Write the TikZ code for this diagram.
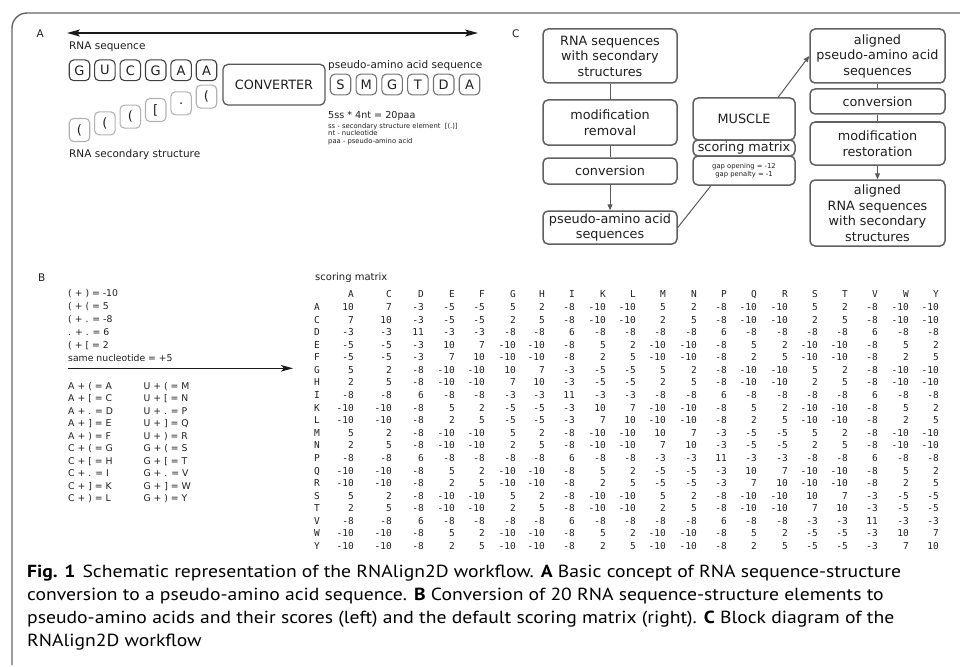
\documentclass[tikz,border=0pt]{standalone}
\usepackage{fontspec}
\setmainfont{DejaVu Sans}
\newfontfamily\dvs{DejaVu Sans}
\newfontfamily\dvm{DejaVu Sans Mono}
\newfontfamily\capf[FakeStretch=1.122]{PT Sans}
\usetikzlibrary{arrows.meta,calc}
\newcommand\myfs[1]{\fontsize{#1}{#1}\selectfont}
\tikzset{
  txt/.style={inner sep=0pt, anchor=base west, text=black!88},
  lbl/.style={txt, font=\dvs\myfs{10.5}},
  seqbox/.style={draw=black!75, line width=1.1pt, rounded corners=4.5pt, minimum width=20.5pt, minimum height=20.7pt, inner sep=0pt, font=\dvs\myfs{13}, text=black!88},
  ssbox/.style={seqbox, draw=black!30, minimum height=23pt},
  paabox/.style={seqbox, draw=black!55},
  flowbox/.style={draw=black!62, line width=1.5pt, rounded corners=5pt, align=center, inner sep=0pt, text=black!88, font=\dvs\fontsize{12.8}{15.5}\selectfont},
  conn/.style={draw=black!65, line width=1pt},
  carrow/.style={conn, -{Triangle[length=6pt,width=5pt]}},
  bigarrow/.style={draw=black!90, line width=1.3pt},
  mtx/.style={inner sep=0pt, anchor=base east, font=\dvm\myfs{9.5}, text=black!88},
  mtxl/.style={inner sep=0pt, anchor=base west, font=\dvm\myfs{9.5}, text=black!88},
  btxt/.style={txt, font=\dvs\myfs{9.3}},
  captxt/.style={inner sep=0pt, anchor=base west, font=\capf\myfs{17.5}, text=black}
}
\begin{document}
\begin{tikzpicture}[x=1pt,y=-1pt]
\useasboundingbox (0,0) rectangle (960,666);
% frame
\draw[draw=black!60, line width=1.4pt, rounded corners=15pt] (12,665) -- (12,13) -- (961,13);

% ---------------- Panel A ----------------
\node[lbl] (labA) at (36.5,38) {A};
\node[lbl] (labC) at (512,38) {C};
\coordinate (aL) at (67,33);
\coordinate (aR) at (478,33);
\draw[bigarrow, {Stealth[length=13pt,width=7pt,inset=3pt]}-{Stealth[length=13pt,width=7pt,inset=3pt]}] (aL) -- (aR);
\node[lbl] (rnaseq) at (69,50) {RNA sequence};
\foreach \ch [count=\i from 0] in {G,U,C,G,A,A}
  \node[seqbox] (rs\i) at ({79.5+25.4*\i},70.3) {\ch};
\foreach \ch [count=\i from 0] in {{(},{(},{(},{[},{.},{(}}
  \node[ssbox] (ss\i) at ({79.5+25.4*\i},{130-6.67*\i}) {\ch};
\node[lbl] (rnass) at (69,157) {RNA secondary structure};
\node[seqbox, draw=black!65, line width=1.3pt, rounded corners=5pt, minimum width=102pt, minimum height=40.7pt, font=\dvs\myfs{12.8}] (conv) at (274,84.7) {CONVERTER};
\node[lbl] (paaseq) at (328,69) {pseudo-amino acid sequence};
\foreach \ch [count=\i from 0] in {S,M,G,T,D,A}
  \node[paabox] (pa\i) at ({340.5+25.8*\i},84.5) {\ch};
\node[txt, font=\dvs\myfs{9.6}] (eq) at (328,118.3) {5ss * 4nt = 20paa};
\node[txt, font=\dvs\myfs{6.8}] (leg1) at (328,128.3) {ss - secondary structure element\ \ [(.)]};
\node[txt, font=\dvs\myfs{6.8}] (leg2) at (328,135.8) {nt - nucleotide};
\node[txt, font=\dvs\myfs{6.8}] (leg3) at (328,143.3) {paa - pseudo-amino acid};

% ---------------- Panel C ----------------
\node[flowbox, minimum width=134pt, minimum height=54pt] (c1) at (610,56) {RNA sequences\\with secondary\\structures};
\node[flowbox, minimum width=134pt, minimum height=45pt] (c2) at (610,122.5) {modification\\removal};
\node[flowbox, minimum width=134pt, minimum height=26pt] (c3) at (610,171) {conversion};
\node[flowbox, minimum width=134pt, minimum height=33pt] (c4) at (610,227.5) {pseudo-amino acid\\sequences};
\node[flowbox, minimum width=102pt, minimum height=42pt] (m1) at (744,119) {MUSCLE};
\node[flowbox, minimum width=102pt, minimum height=16pt] (m2) at (744,148) {scoring matrix};
\node[flowbox, minimum width=102pt, minimum height=29pt, font=\dvs\fontsize{6.8}{8.2}\selectfont] (m3) at (744,170.5) {gap opening = -12\\gap penalty = -1};
\node[flowbox, minimum width=135pt, minimum height=54pt] (r1) at (877.5,56) {aligned\\pseudo-amino acid\\sequences};
\node[flowbox, minimum width=135pt, minimum height=25pt] (r2) at (877.5,101.5) {conversion};
\node[flowbox, minimum width=135pt, minimum height=43pt] (r3) at (877.5,143.5) {modification\\restoration};
\node[flowbox, minimum width=135pt, minimum height=66pt] (r4) at (877.5,213) {aligned\\RNA sequences\\with secondary\\structures};
\draw[conn] (c1) -- (c2);
\draw[conn] (c2) -- (c3);
\draw[carrow] (c3) -- (c4);
\draw[conn] (c4.east) -- ($(m3.south west)!0.18!(m3.south east)$);
\draw[carrow] ($(m1.north west)!0.83!(m1.north east)$) -- (r1.west);
\draw[conn] (r1) -- (r2);
\draw[conn] (r2) -- (r3);
\draw[carrow] (r3) -- (r4);

% ---------------- Panel B ----------------
\node[lbl] (labB) at (38,281) {B};
\foreach \t [count=\i from 0] in {{( + ) = -10},{( + ( = 5},{( + . = -8},{. + . = 6},{( + [ = 2},{same nucleotide = +5}}
  \node[btxt] (rule\i) at (68,{296.5+13*\i}) {\t};
\coordinate (bL) at (68,368.3);
\coordinate (bR) at (293,368.3);
\draw[bigarrow, -{Stealth[length=12pt,width=6.5pt,inset=3pt]}] (bL) -- (bR);
\foreach \t [count=\i from 0] in {{A + ( = A},{A + [ = C},{A + . = D},{A + ] = E},{A + ) = F},{C + ( = G},{C + [ = H},{C + . = I},{C + ] = K},{C + ) = L}}
  \node[btxt] (mapa\i) at (68,{389+12.5*\i}) {\t};
\foreach \t [count=\i from 0] in {{U + ( = M},{U + [ = N},{U + . = P},{U + ] = Q},{U + ) = R},{G + ( = S},{G + [ = T},{G + . = V},{G + ] = W},{G + ) = Y}}
  \node[btxt] (mapb\i) at (143.3,{389+12.5*\i}) {\t};

% scoring matrix
\node[lbl, font=\dvs\myfs{10}] (smlab) at (315,280.3) {scoring matrix};
\def\colx{{354,392,424,455,485,516,545,575,606,636,666,697,727,757,788,818,848,878,909,939}}
\foreach \h [count=\c from 0] in {A,C,D,E,F,G,H,I,K,L,M,N,P,Q,R,S,T,V,W,Y}{
  \pgfmathsetmacro\xx{\colx[\c]}
  \node[mtx] (h\c) at (\xx,297) {\h};
}
\foreach \lab/\vals [count=\r from 0] in {
 A/{10,7,-3,-5,-5,5,2,-8,-10,-10,5,2,-8,-10,-10,5,2,-8,-10,-10},
 C/{7,10,-3,-5,-5,2,5,-8,-10,-10,2,5,-8,-10,-10,2,5,-8,-10,-10},
 D/{-3,-3,11,-3,-3,-8,-8,6,-8,-8,-8,-8,6,-8,-8,-8,-8,6,-8,-8},
 E/{-5,-5,-3,10,7,-10,-10,-8,5,2,-10,-10,-8,5,2,-10,-10,-8,5,2},
 F/{-5,-5,-3,7,10,-10,-10,-8,2,5,-10,-10,-8,2,5,-10,-10,-8,2,5},
 G/{5,2,-8,-10,-10,10,7,-3,-5,-5,5,2,-8,-10,-10,5,2,-8,-10,-10},
 H/{2,5,-8,-10,-10,7,10,-3,-5,-5,2,5,-8,-10,-10,2,5,-8,-10,-10},
 I/{-8,-8,6,-8,-8,-3,-3,11,-3,-3,-8,-8,6,-8,-8,-8,-8,6,-8,-8},
 K/{-10,-10,-8,5,2,-5,-5,-3,10,7,-10,-10,-8,5,2,-10,-10,-8,5,2},
 L/{-10,-10,-8,2,5,-5,-5,-3,7,10,-10,-10,-8,2,5,-10,-10,-8,2,5},
 M/{5,2,-8,-10,-10,5,2,-8,-10,-10,10,7,-3,-5,-5,5,2,-8,-10,-10},
 N/{2,5,-8,-10,-10,2,5,-8,-10,-10,7,10,-3,-5,-5,2,5,-8,-10,-10},
 P/{-8,-8,6,-8,-8,-8,-8,6,-8,-8,-3,-3,11,-3,-3,-8,-8,6,-8,-8},
 Q/{-10,-10,-8,5,2,-10,-10,-8,5,2,-5,-5,-3,10,7,-10,-10,-8,5,2},
 R/{-10,-10,-8,2,5,-10,-10,-8,2,5,-5,-5,-3,7,10,-10,-10,-8,2,5},
 S/{5,2,-8,-10,-10,5,2,-8,-10,-10,5,2,-8,-10,-10,10,7,-3,-5,-5},
 T/{2,5,-8,-10,-10,2,5,-8,-10,-10,2,5,-8,-10,-10,7,10,-3,-5,-5},
 V/{-8,-8,6,-8,-8,-8,-8,6,-8,-8,-8,-8,6,-8,-8,-3,-3,11,-3,-3},
 W/{-10,-10,-8,5,2,-10,-10,-8,5,2,-10,-10,-8,5,2,-5,-5,-3,10,7},
 Y/{-10,-10,-8,2,5,-10,-10,-8,2,5,-10,-10,-8,2,5,-5,-5,-3,7,10}}{
  \pgfmathsetmacro\yy{310.5+12.58*\r}
  \node[mtxl] (rl\r) at (314,\yy) {\lab};
  \foreach \v [count=\c from 0] in \vals {
    \pgfmathsetmacro\xx{\colx[\c]}
    \node[mtx] (m\r-\c) at (\xx,\yy) {\v};
  }
}

% ---------------- Caption ----------------
\node[captxt] (cap1) at (27,577) {\textbf{Fig. 1}\hspace{7pt}Schematic representation of the RNAlign2D workflow. \textbf{A} Basic concept of RNA sequence-structure};
\node[captxt] (cap2) at (27,600) {conversion to a pseudo-amino acid sequence. \textbf{B} Conversion of 20 RNA sequence-structure elements to};
\node[captxt] (cap3) at (27,623) {pseudo-amino acids and their scores (left) and the default scoring matrix (right). \textbf{C} Block diagram of the};
\node[captxt] (cap4) at (27,646) {RNAlign2D workflow};
\end{tikzpicture}
\end{document}
